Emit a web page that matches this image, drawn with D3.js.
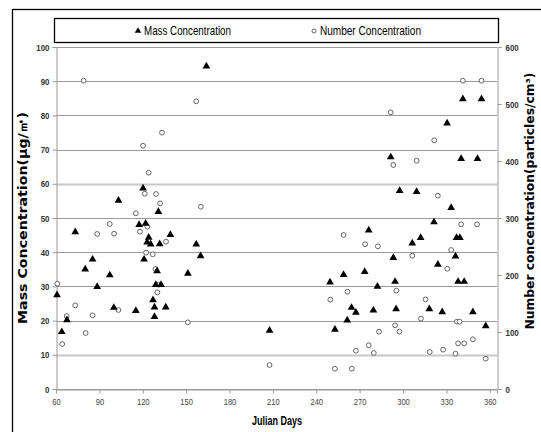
<!DOCTYPE html>
<html>
<head>
<meta charset="utf-8">
<script src="https://cdn.jsdelivr.net/npm/d3@7"></script>
<style>
  html, body { margin: 0; padding: 0; background: #fff; }
  svg { display: block; }
</style>
</head>
<body>
<svg id="chart" width="541" height="432"></svg>
<script>
// ---- data ----
const massDays = [60.7, 64, 67.6, 73.3, 80.2, 85.3, 88.5, 97.2, 100, 103.2, 115.2, 117.5, 120.2, 120.9, 122, 123, 124.1, 125.5, 127.1, 128.1, 128.1, 129, 129.9, 130.8, 131.7, 132.6, 135.9, 139.1, 151.2, 157, 160, 164, 207.7,
  249.5, 252.9, 258.9, 261.4, 264.4, 267.4, 273.5, 276.3, 279.5, 282.3, 291.5, 293.3, 294.5, 295.2, 297.7, 306.4, 309.4, 312.2, 318.2, 321.4, 324.1, 327.1, 330.5, 333.3, 336.3, 337, 338.1, 339.3, 340.2, 341.4, 342.3, 348.3, 351.5, 354.3, 357.2];
const massValues = [27.5, 16.7, 20.2, 45.9, 35, 37.9, 29.9, 33.3, 23.8, 55.1, 22.9, 48, 58.7, 37.9, 48.4, 42.9, 44.3, 42.3, 26, 23.9, 21.1, 30.5, 34.5, 51.8, 42.4, 30.5, 23.9, 45.1, 33.8, 42.3, 38.9, 94.4, 17.1,
  31.2, 17.4, 33.4, 20.1, 23.8, 22.4, 34.3, 46.4, 23, 30, 67.8, 38.4, 31.4, 23.4, 58, 42.6, 57.7, 44.2, 23.4, 48.8, 36.4, 22.5, 77.7, 53, 38.8, 44.2, 31.4, 44.2, 67.3, 84.8, 31.4, 22.5, 67.3, 84.8, 18.4];

const numberDays = [60.9, 64.3, 67.4, 73.3, 79.1, 80.5, 85.3, 88.5, 97.2, 100.2, 103.2, 115.2, 118, 120.2, 121.4, 122.3, 123.2, 124.1, 126.9, 128.8, 129.2, 130.1, 131, 132, 133.3, 136.1, 151.2, 157, 160.2, 207.7,
  249.7, 252.9, 258.9, 261.6, 264.6, 267.4, 273.8, 276.3, 279.8, 282.6, 283.4, 291.5, 293.3, 294.5, 295.4, 297.5, 306.4, 309.4, 312.4, 315.6, 318.5, 321.6, 324.1, 327.7, 330.6, 333.3, 336.3, 337.3, 338.1, 339.1, 340.2, 341.4, 342.3, 348.3, 351.2, 354.3, 357.2];
const numberValues = [184.7, 78.9, 128, 146.8, 540.9, 98.2, 129.2, 272, 289.5, 272.5, 138.6, 308.2, 276, 426.8, 342.6, 239.2, 284.8, 379.5, 236.3, 210.5, 342.1, 169.6, 183, 325.8, 449.7, 258.4, 117, 504.7, 319.8, 42.1,
  156.7, 35.6, 270.2, 170.7, 35.6, 67.2, 254, 76.7, 63.2, 250.3, 100.6, 485.4, 393, 111.7, 172.5, 100.6, 233.9, 400.5, 123.4, 157.3, 64.9, 436.3, 339.2, 69, 211, 243.9, 62, 118.1, 80.2, 118.1, 288.9, 540.9, 80.2, 87.2, 288.9, 540.9, 53.2];

const xTicks = [60, 90, 120, 150, 180, 210, 240, 270, 300, 330, 360];
const leftTicks = [0, 10, 20, 30, 40, 50, 60, 70, 80, 90, 100];
const rightTicks = [0, 100, 200, 300, 400, 500, 600];
const legendLabels = ["Mass Concentration", "Number Concentration"];
const xTitle = "Julian Days";
const leftTitle = "Mass Concentration(\u03bcg/\u33a5)";
const rightTitle = "Number concentration(particles/cm\u00b3)";

// ---- layout ----
const svg = d3.select("#chart");
const L = 56, R = 497, T = 47, B = 389;
const x = d3.scaleLinear().domain([60, 365]).range([L, R]);
const yL = d3.scaleLinear().domain([0, 100]).range([B, T]);
const yR = d3.scaleLinear().domain([0, 600]).range([B, T]);

// outer frame
svg.append("rect").attr("x", 12.5).attr("y", 9.5).attr("width", 560).attr("height", 460)
  .attr("fill", "none").attr("stroke", "#000").attr("stroke-width", 1.3);

// gridlines
svg.append("g").selectAll("line").data(leftTicks).join("line")
  .attr("x1", L).attr("x2", R)
  .attr("y1", d => Math.round(yL(d)) + 0.5).attr("y2", d => Math.round(yL(d)) + 0.5)
  .attr("stroke", d => (d === 10 || d === 60) ? "#c8c8c8" : "#9a9a9a")
  .attr("stroke-width", d => (d === 10 || d === 60) ? 2 : 1);

// axes
const fontTick = "'Liberation Sans Narrow', 'Arial Narrow', sans-serif";
const gx = svg.append("g").attr("transform", `translate(0,${B + 0.5})`)
  .call(d3.axisBottom(x).tickValues(xTicks).tickSize(4).tickPadding(5).tickFormat(d3.format("d")));
const gl = svg.append("g").attr("transform", `translate(${L + 0.5},0)`)
  .call(d3.axisLeft(yL).tickValues(leftTicks).tickSize(4).tickPadding(3).tickFormat(d3.format("d")));
const gr = svg.append("g").attr("transform", `translate(${R + 0.5},0)`)
  .call(d3.axisRight(yR).tickValues(rightTicks).tickSize(4).tickPadding(4).tickFormat(d3.format("d")));
[gx, gl, gr].forEach(g => {
  g.select(".domain").attr("stroke", "#9a9a9a");
  g.selectAll(".tick line").attr("stroke", "#9a9a9a");
  g.selectAll("text").attr("font-family", fontTick).attr("fill", "#333");
});
gx.selectAll("text").attr("font-size", 8.5).attr("fill", "#444")
  .attr("textLength", d => String(d).length * 4.2).attr("lengthAdjust", "spacingAndGlyphs");
gl.selectAll("text").attr("font-size", 9.5).attr("font-weight", "bold")
  .attr("textLength", d => String(d).length * 4.4).attr("lengthAdjust", "spacingAndGlyphs");
gr.selectAll("text").attr("font-size", 9.5).attr("font-weight", "bold")
  .attr("textLength", d => String(d).length * 4.4).attr("lengthAdjust", "spacingAndGlyphs");

// markers
const tri = d3.symbol().type(d3.symbolTriangle).size(26);
svg.append("g").selectAll("circle").data(numberDays.map((d, i) => [d, numberValues[i]])).join("circle")
  .attr("cx", d => x(d[0])).attr("cy", d => yR(d[1])).attr("r", 2.4)
  .attr("fill", "#fff").attr("stroke", "#555").attr("stroke-width", 0.9);
svg.append("g").selectAll("path").data(massDays.map((d, i) => [d, massValues[i]])).join("path")
  .attr("d", tri).attr("transform", d => `translate(${x(d[0])},${yL(d[1])})`)
  .attr("fill", "#000");

// legend
svg.append("rect").attr("x", 54.5).attr("y", 18.5).attr("width", 444).attr("height", 24)
  .attr("fill", "#fff").attr("stroke", "#000").attr("stroke-width", 1.3);
svg.append("path").attr("d", d3.symbol().type(d3.symbolTriangle).size(18)).attr("transform", "translate(138,31)").attr("fill", "#000");
svg.append("circle").attr("cx", 314).attr("cy", 31).attr("r", 2).attr("fill", "#fff").attr("stroke", "#555").attr("stroke-width", 0.9);
const legFont = "'Liberation Sans Narrow', 'Arial Narrow', sans-serif";
svg.append("text").attr("x", 144).attr("y", 35).text(legendLabels[0])
  .attr("font-family", legFont).attr("font-size", 13).attr("fill", "#000")
  .attr("textLength", 87).attr("lengthAdjust", "spacingAndGlyphs");
svg.append("text").attr("x", 320).attr("y", 35).text(legendLabels[1])
  .attr("font-family", legFont).attr("font-size", 13).attr("fill", "#000")
  .attr("textLength", 101).attr("lengthAdjust", "spacingAndGlyphs");

// titles
svg.append("text").attr("x", 252).attr("y", 425).text(xTitle)
  .attr("font-family", legFont).attr("font-weight", "bold").attr("font-size", 13.5)
  .attr("textLength", 50).attr("lengthAdjust", "spacingAndGlyphs");
svg.append("text").attr("transform", "translate(27,218) rotate(-90)").attr("text-anchor", "middle").text(leftTitle)
  .attr("font-family", "'DejaVu Sans', sans-serif").attr("font-weight", "bold").attr("font-size", 11.5)
  .attr("textLength", 212).attr("lengthAdjust", "spacingAndGlyphs");
svg.append("text").attr("transform", "translate(534,201) rotate(-90)").attr("text-anchor", "middle").text(rightTitle)
  .attr("font-family", "'DejaVu Sans', sans-serif").attr("font-weight", "bold").attr("font-size", 11.5)
  .attr("textLength", 257).attr("lengthAdjust", "spacingAndGlyphs");
</script>
</body>
</html>
